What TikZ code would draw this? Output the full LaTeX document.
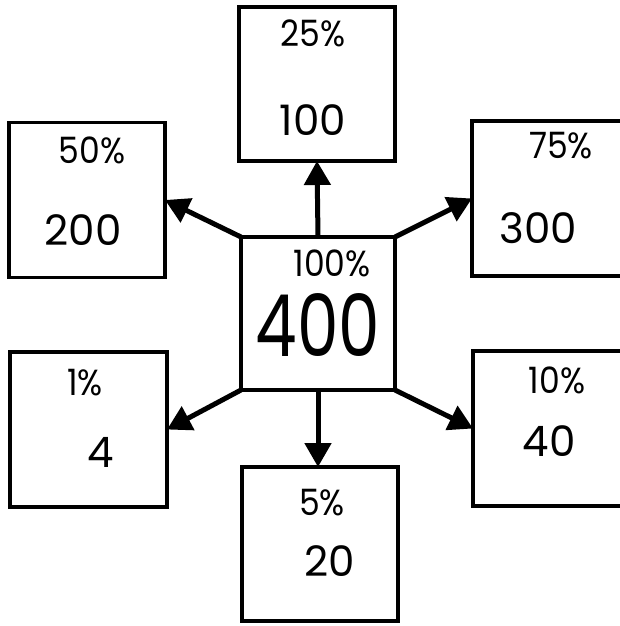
\documentclass[tikz,border=0pt]{standalone}
\usepackage{fontspec}
\usepackage{graphicx}
\setmainfont{Poppins}
\usetikzlibrary{arrows.meta}
\newcommand{\tallpct}[1]{\scalebox{1}[1.1]{#1}}
\newcommand{\tallbig}[1]{\scalebox{1}[1.3]{#1}}
\begin{document}
\begin{tikzpicture}[x=1pt,y=-1pt,
  box/.style={draw,line width=3.2pt,inner sep=0pt,outer sep=0pt},
  arr/.style={line width=5pt,-{Triangle[length=24pt,width=26pt]}},
  pct/.style={font=\fontsize{33}{33}\selectfont,inner sep=0pt},
  num/.style={font=\fontsize{42}{42}\selectfont,inner sep=0pt},
  big/.style={font=\fontsize{66}{66}\selectfont,inner sep=0pt}]
\useasboundingbox (0,0) rectangle (620,626);
\clip (0,0) rectangle (620,626);
% boxes
\node[box,minimum width=154pt,minimum height=153pt] (c) at (318,313.5) {};
\node[box,minimum width=156pt,minimum height=154pt] (t) at (317,84) {};
\node[box,minimum width=156pt,minimum height=155pt] (tl) at (87,200) {};
\node[box,minimum width=170pt,minimum height=155pt] (tr) at (557,198.5) {};
\node[box,minimum width=157pt,minimum height=155pt] (bl) at (88.5,429.5) {};
\node[box,minimum width=170pt,minimum height=155pt] (br) at (558,428.5) {};
\node[box,minimum width=156pt,minimum height=154pt] (b) at (320,544) {};
% labels
\node[pct] (tp) at (313,33) {\tallpct{25\%}};
\node[num] (tn) at (313,120) {100};
\node[pct] (tlp) at (92,150) {\tallpct{50\%}};
\node[num] (tln) at (83,230) {200};
\node[pct] (trp) at (561,146) {\tallpct{75\%}};
\node[num] (trn) at (538,228) {300};
\node[pct] (cp) at (332,263) {\tallpct{100\%}};
\node[big] (cn) at (318,325) {\tallbig{400}};
\node[pct] (blp) at (85,383) {\tallpct{1\%}};
\node[num] (bln) at (101,452) {4};
\node[pct] (brp) at (557,380) {\tallpct{10\%}};
\node[num] (brn) at (549,441) {40};
\node[pct] (bp) at (322,503) {\tallpct{5\%}};
\node[num] (bn) at (330,561) {20};
% arrows
\draw[arr] (c.north) -- (t.south);
\draw[arr] (c.north west) -- (tl.east);
\draw[arr] (c.north east) -- (tr.west);
\draw[arr] (c.south west) -- (bl.east);
\draw[arr] (c.south) -- (c.south |- b.north);
\draw[arr] (c.south east) -- (br.west);
\end{tikzpicture}
\end{document}
